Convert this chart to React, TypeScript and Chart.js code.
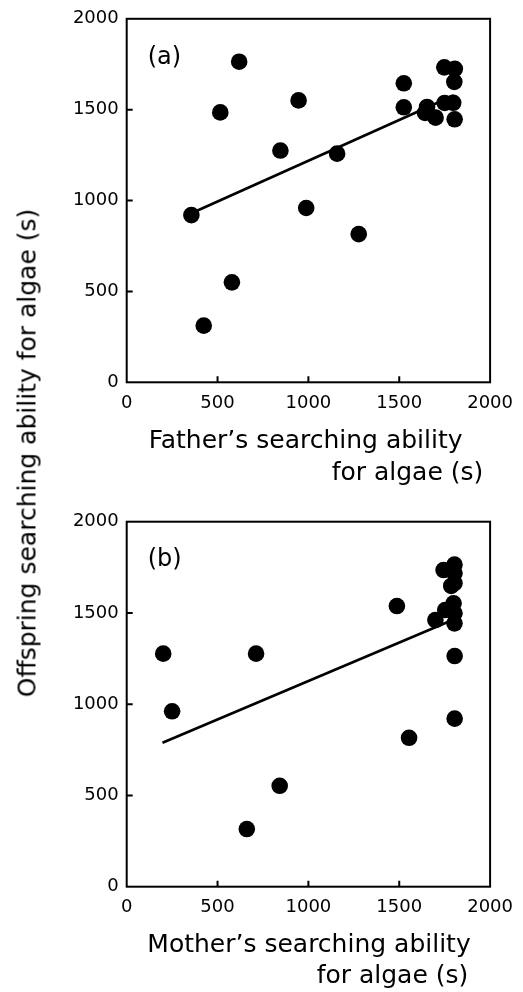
import { useEffect, useRef } from 'react';
import { Chart, registerables } from 'chart.js';

Chart.register(...registerables);

const FONT = '"DejaVu Sans", "Liberation Sans", sans-serif';

// tick labels shared by both axes of both panels
const tickValues = [0, 500, 1000, 1500, 2000];

// Panel (a): father's searching ability vs offspring
const fatherAbility = [356, 424, 579, 515, 619, 846, 946, 988, 1158, 1277, 1525, 1525, 1653, 1642, 1700, 1748, 1806, 1803, 1750, 1797, 1805];
const fatherOffspring = [920, 312, 550, 1485, 1764, 1275, 1551, 959, 1258, 815, 1645, 1513, 1515, 1482, 1456, 1733, 1725, 1653, 1537, 1538, 1447];
const fatherFitX = [356, 1800];
const fatherFitY = [930, 1578];

// Panel (b): mother's searching ability vs offspring
const motherAbility = [201, 250, 712, 661, 842, 1487, 1554, 1805, 1805, 1699, 1744, 1804, 1804, 1786, 1804, 1753, 1799, 1804, 1804];
const motherOffspring = [1277, 961, 1277, 316, 553, 1538, 816, 921, 1264, 1461, 1735, 1765, 1717, 1648, 1663, 1516, 1553, 1498, 1443];
const motherFitX = [197, 1800];
const motherFitY = [789, 1464];

const framePlugin = {
  id: 'frame',
  afterDraw(chart: any, _args: any, opts: any) {
    const { ctx, chartArea: a, scales } = chart;
    ctx.save();
    ctx.strokeStyle = '#000';
    ctx.lineWidth = 2;
    ctx.strokeRect(a.left, a.top, a.right - a.left, a.bottom - a.top);
    ctx.beginPath();
    for (const v of tickValues) {
      if (v === tickValues[0] || v === tickValues[tickValues.length - 1]) continue;
      const x = scales.x.getPixelForValue(v);
      ctx.moveTo(x, a.bottom);
      ctx.lineTo(x, a.bottom - 6);
      const y = scales.y.getPixelForValue(v);
      ctx.moveTo(a.left, y);
      ctx.lineTo(a.left + 6, y);
    }
    ctx.stroke();

    ctx.fillStyle = '#000';
    ctx.textBaseline = 'alphabetic';
    ctx.font = `24px ${FONT}`;
    ctx.textAlign = 'left';
    ctx.fillText(opts.label, a.left + 21, a.top + 44.7);

    ctx.font = `25px ${FONT}`;
    ctx.textAlign = 'center';
    ctx.fillText(opts.line1, opts.line1X, a.bottom + opts.line1Dy);
    ctx.textAlign = 'right';
    ctx.fillText(opts.line2, opts.line2X, a.bottom + opts.line2Dy);
    ctx.restore();
  },
};

type PanelProps = {
  xs: number[];
  ys: number[];
  fitX: number[];
  fitY: number[];
  padTop: number;
  xAxisHeight: number;
  label: string;
  line1: string;
  line2: string;
  line1X: number;
  line1Dy: number;
  line2X: number;
  line2Dy: number;
};

function Panel(p: PanelProps) {
  const ref = useRef<HTMLCanvasElement>(null);
  useEffect(() => {
    if (!ref.current) return;
    const axisCommon = {
      type: 'linear' as const,
      min: 0,
      max: 2000,
      grid: { display: false, drawTicks: false },
      border: { display: false },
      afterBuildTicks: (s: any) => {
        s.ticks = tickValues.map((v) => ({ value: v }));
      },
    };
    const chart = new Chart(ref.current, {
      type: 'scatter',
      data: {
        datasets: [
          {
            data: p.xs.map((x, i) => ({ x, y: p.ys[i] })),
            pointRadius: 8.3,
            pointHoverRadius: 8.3,
            backgroundColor: '#000',
            borderWidth: 0,
            showLine: false,
            order: 0,
          },
          {
            data: p.fitX.map((x, i) => ({ x, y: p.fitY[i] })),
            showLine: true,
            pointRadius: 0,
            borderColor: '#000',
            borderWidth: 2.6,
            order: 1,
          },
        ],
      },
      options: {
        animation: false,
        responsive: false,
        events: [],
        layout: { padding: { top: p.padTop, right: 31.3, bottom: 0, left: 0 } },
        plugins: {
          legend: { display: false },
          tooltip: { enabled: false },
          frame: {
            label: p.label,
            line1: p.line1,
            line2: p.line2,
            line1X: p.line1X,
            line1Dy: p.line1Dy,
            line2X: p.line2X,
            line2Dy: p.line2Dy,
          },
        } as any,
        scales: {
          x: {
            ...axisCommon,
            ticks: {
              color: '#000',
              font: { family: FONT, size: 18 },
              padding: 10,
              maxRotation: 0,
              autoSkip: false,
              callback: (v: any) => String(v),
            },
            afterFit: (s: any) => {
              s.height = p.xAxisHeight;
            },
          },
          y: {
            ...axisCommon,
            ticks: {
              color: '#000',
              font: { family: FONT, size: 18 },
              padding: 8,
              autoSkip: false,
              callback: (v: any) => String(v),
            },
            afterFit: (s: any) => {
              s.width = 126.7;
            },
          },
        },
      } as any,
      plugins: [framePlugin],
    });
    return () => chart.destroy();
  }, []);
  return <canvas ref={ref} width={523} height={496} style={{ display: 'block' }} />;
}

export default function App() {
  return (
    <div style={{ position: 'absolute', left: 0, top: 0, width: 523, height: 992, background: '#fff' }}>
      <Panel
        xs={fatherAbility}
        ys={fatherOffspring}
        fitX={fatherFitX}
        fitY={fatherFitY}
        padTop={17.3}
        xAxisHeight={113.7}
        label="(a)"
        line1="Father’s searching ability"
        line2="for algae (s)"
        line1X={305.6}
        line1Dy={66}
        line2X={483.3}
        line2Dy={97.7}
      />
      <Panel
        xs={motherAbility}
        ys={motherOffspring}
        fitX={motherFitX}
        fitY={motherFitY}
        padTop={25.7}
        xAxisHeight={105.3}
        label="(b)"
        line1="Mother’s searching ability"
        line2="for algae (s)"
        line1X={309}
        line1Dy={65}
        line2X={468.3}
        line2Dy={96}
      />
      <div
        style={{
          position: 'absolute',
          left: 26.5,
          top: 453,
          transform: 'translate(-50%, -50%) rotate(-90deg)',
          whiteSpace: 'nowrap',
          lineHeight: 1,
          font: `25px ${FONT}`,
          color: '#000',
        }}
      >
        Offspring searching ability for algae (s)
      </div>
    </div>
  );
}
